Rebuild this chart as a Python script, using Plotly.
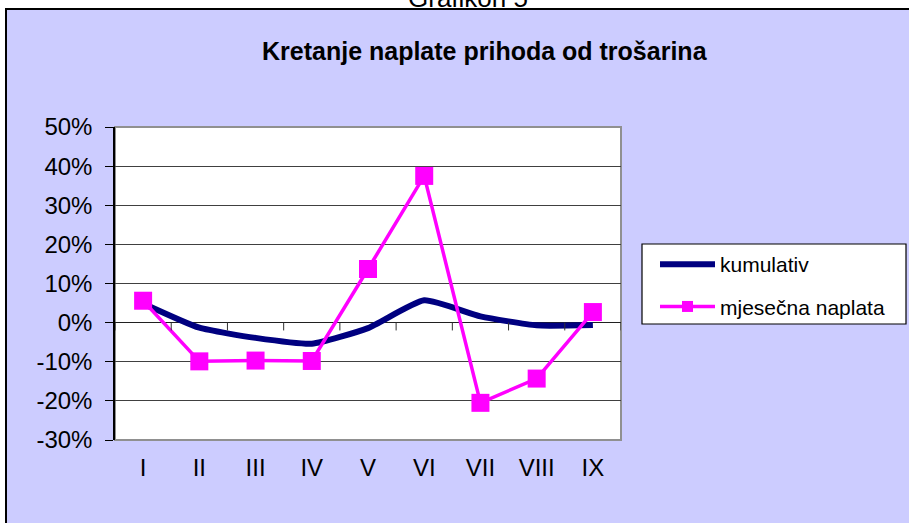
import plotly.graph_objects as go

# ---- data ----
months = ["I", "II", "III", "IV", "V", "VI", "VII", "VIII", "IX"]
kumulativ = [4.9, -1.3, -3.9, -5.4, -1.4, 5.7, 1.6, -0.7, -0.6]
mjesecna = [5.6, -9.9, -9.7, -9.8, 13.7, 37.5, -20.5, -14.3, 2.7]
y_ticks = [-30, -20, -10, 0, 10, 20, 30, 40, 50]
y_tick_text = ["-30%", "-20%", "-10%", "0%", "10%", "20%", "30%", "40%", "50%"]

W, H = 909, 523
OFF = 0  # page body margin removed via post_script
# plot area in window pixels: x 115..621, y 127..440
L, T = 115 - OFF, 127 - OFF
R, B = W - (621 - OFF), H - (440 - OFF)
PW, PH = W - L - R, H - T - B

def px_x(x):
    return (x - OFF - L) / PW

def px_y(y):
    return (H - B - (y - OFF)) / PH

NAVY = "#000080"
MAG = "#FF00FF"
FONT = "Arial, Liberation Sans, sans-serif"

fig = go.Figure()
fig.add_trace(go.Scatter(x=months, y=kumulativ, mode="lines", name="kumulativ",
                         line=dict(color=NAVY, width=6, shape="spline", smoothing=0.5),
                         showlegend=False))
fig.add_trace(go.Scatter(x=months, y=mjesecna, mode="lines+markers", name="mjesečna naplata",
                         line=dict(color=MAG, width=3.5),
                         marker=dict(symbol="square", size=18, color=MAG),
                         showlegend=False))
# legend entries
fig.add_trace(go.Scatter(x=[None], y=[None], mode="lines", name="kumulativ",
                         line=dict(color=NAVY, width=6), legendgroup="a"))
fig.add_trace(go.Scatter(x=[None], y=[None], mode="lines+markers", name="mjesečna naplata",
                         line=dict(color=MAG, width=3.5),
                         marker=dict(symbol="square", size=11, color=MAG), legendgroup="b"))

shapes = []
# chart area (lavender) with border
shapes.append(dict(type="rect", xref="paper", yref="paper", layer="below",
                   x0=px_x(6), x1=px_x(1100), y0=px_y(9), y1=px_y(800),
                   fillcolor="#CCCCFF", line=dict(color="black", width=2)))
# plot area
shapes.append(dict(type="rect", xref="paper", yref="paper", layer="below",
                   x0=0, x1=1, y0=0, y1=1,
                   fillcolor="white", line=dict(color="#909090", width=2)))
# legend box
shapes.append(dict(type="rect", xref="paper", yref="paper", layer="below",
                   x0=px_x(642), x1=px_x(906), y0=px_y(324), y1=px_y(244),
                   fillcolor="white", line=dict(color="black", width=1.2)))
# category boundary ticks on the zero line
for i in range(len(months) + 1):
    shapes.append(dict(type="line", xref="x", yref="y", layer="above",
                       x0=i - 0.5, x1=i - 0.5, y0=0, y1=-2.0,
                       line=dict(color="#303030", width=1)))

annotations = [
    dict(text="Grafikon 5", xref="paper", yref="paper", x=px_x(468), y=px_y(15),
         xanchor="center", yanchor="bottom", showarrow=False,
         font=dict(family=FONT, size=26, color="black")),
    dict(text="<b>Kretanje naplate prihoda od trošarina</b>", xref="paper", yref="paper",
         x=px_x(485), y=px_y(51), xanchor="center", yanchor="middle", showarrow=False,
         font=dict(family=FONT, size=25, color="black")),
]

fig.update_layout(
    width=W, height=H, autosize=False,
    margin=dict(l=L, r=R, t=T, b=B, pad=0, autoexpand=False),
    paper_bgcolor="white", plot_bgcolor="rgba(0,0,0,0)",
    shapes=shapes, annotations=annotations,
    font=dict(family=FONT, color="black"),
    legend=dict(x=px_x(655), y=px_y(244), xanchor="left", yanchor="top",
                bgcolor="rgba(0,0,0,0)", borderwidth=0,
                font=dict(family=FONT, size=21, color="black"),
                traceorder="grouped", tracegroupgap=12, itemwidth=55),
    xaxis=dict(type="category", range=[-0.5, len(months) - 0.5], showgrid=False,
               zeroline=False, showline=False, ticks="", ticklabelstandoff=11,
               automargin=False,
               tickfont=dict(family=FONT, size=24, color="black"), fixedrange=True),
    yaxis=dict(range=[-30, 50], tickvals=y_ticks, ticktext=y_tick_text,
               showgrid=True, gridcolor="#404040", gridwidth=1,
               zeroline=True, zerolinecolor="#202020", zerolinewidth=1,
               showline=True, linecolor="black", linewidth=1.5, automargin=False,
               ticks="outside", ticklen=8, tickcolor="black", ticklabelstandoff=8,
               tickfont=dict(family=FONT, size=24, color="black"), fixedrange=True),
)

fig.write_html("out.html", config={"displayModeBar": False},
               post_script="document.body.style.margin='0';document.body.style.overflow='hidden';")
